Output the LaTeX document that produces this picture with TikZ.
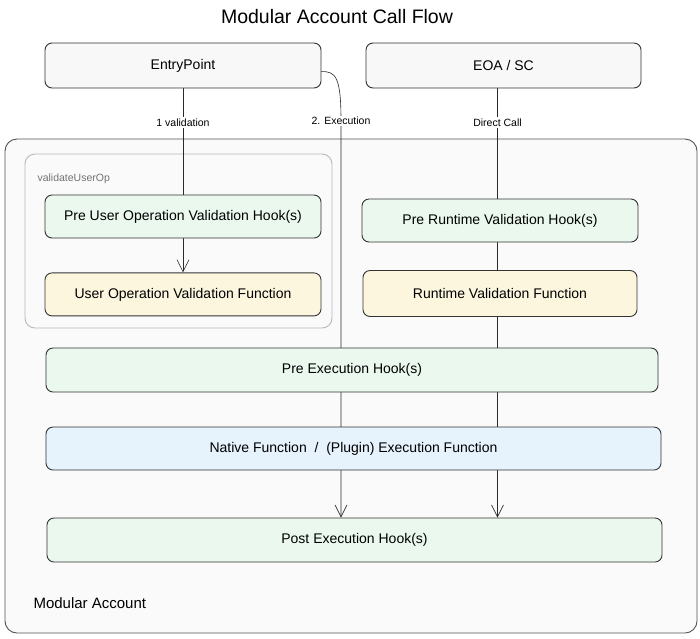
\documentclass[tikz,border=0pt]{standalone}
\usepackage{fontspec}
\setmainfont{Liberation Sans}
\usepackage{tikz}
\usetikzlibrary{positioning,arrows.meta,backgrounds}
\definecolor{boxline}{HTML}{333333}
\definecolor{grayfill}{HTML}{F8F8F8}
\definecolor{greenfill}{HTML}{EAF8EE}
\definecolor{yellowfill}{HTML}{FCF6DF}
\definecolor{bluefill}{HTML}{E6F2FC}
\definecolor{groupline}{HTML}{B8B8B8}
\definecolor{flowline}{HTML}{2A2A2A}
\definecolor{accountfill}{HTML}{FAFAFA}
\pgfdeclarelayer{lines}
\pgfsetlayers{background,lines,main}
\tikzstyle{blk}    = [rectangle, draw=boxline, line width=0.9pt, rounded corners=7pt,
                      inner sep=0pt, text centered, font=\fontsize{14}{16}\selectfont]
\tikzstyle{outer}  = [blk, rounded corners=12pt, fill=accountfill, draw=boxline!85]
\tikzstyle{group}  = [blk, rounded corners=10pt, fill=accountfill, draw=groupline]
\tikzstyle{flow}   = [draw=flowline, line width=0.6pt]
\tikzstyle{ptr}    = [flow, -{Straight Barb[length=12pt,width=12pt]}]
\tikzstyle{lbl}    = [fill=white, inner sep=1.5pt, font=\fontsize{10.5}{12}\selectfont]
\begin{document}
\begin{tikzpicture}[x=1pt, y=-1pt]
		\useasboundingbox (0,0) rectangle (700,638);
		\node[font=\fontsize{19.5}{22}\selectfont] (title) at (337,17) {Modular Account Call Flow};

		% containers
		\begin{pgfonlayer}{background}
		\node[outer, minimum width=692pt, minimum height=494pt] (account) at (351,386) {};
		\node[anchor=west, font=\fontsize{15}{17}\selectfont] (accountlbl) at (30,603) {Modular Account};
		\node[group, minimum width=307pt, minimum height=174pt] (userop) at (178.5,241) {};
		\node[anchor=west, text=black!55, font=\fontsize{10.5}{12}\selectfont] (useroplbl) at (34,179) {validateUserOp};
		\end{pgfonlayer}

		\node[blk, fill=grayfill, minimum width=276pt, minimum height=45pt] (entry) at (183,65.5) {EntryPoint};
		\node[blk, fill=grayfill, minimum width=275pt, minimum height=45pt] (eoa) at (503.5,65.5) {EOA / SC};

		\node[blk, fill=greenfill, minimum width=276pt, minimum height=43pt] (preuo) at (183,216.5) {Pre User Operation Validation Hook(s)};
		\node[blk, fill=yellowfill, minimum width=276pt, minimum height=43pt, below=34pt of preuo] (uovf) {User Operation Validation Function};
		\node[blk, fill=greenfill, minimum width=276pt, minimum height=43pt] (prert) at (500,220.5) {Pre Runtime Validation Hook(s)};
		\node[blk, fill=yellowfill, minimum width=274pt, minimum height=46pt] (rtvf) at (500,293.5) {Runtime Validation Function};

		\node[blk, fill=greenfill, minimum width=612pt, minimum height=44pt] (preexec) at (352,370) {Pre Execution Hook(s)};
		\node[blk, fill=bluefill, minimum width=615pt, minimum height=43pt] (native) at (353.5,448.5) {Native Function~~/~~(Plugin) Execution Function};
		\node[blk, fill=greenfill, minimum width=615pt, minimum height=44pt] (postexec) at (354.5,540) {Post Execution Hook(s)};

		% call lines
		\begin{pgfonlayer}{lines}
		\draw[ptr] (entry.south) -- (uovf.north) node[lbl, pos=0.185] {1 validation};
		\coordinate (ex) at (341,121);
		\draw[ptr] ([yshift=-6pt]entry.east) .. controls +(14,0) and +(0,-45) .. (ex)
			node[lbl] {2. Execution} -- (ex |- postexec.north);
		\coordinate (dc) at ([xshift=-6pt]eoa.south);
		\draw[ptr] (dc) -- (dc |- postexec.north) node[lbl, pos=0.08] {Direct Call};
		\end{pgfonlayer}
	\end{tikzpicture}
\end{document}
